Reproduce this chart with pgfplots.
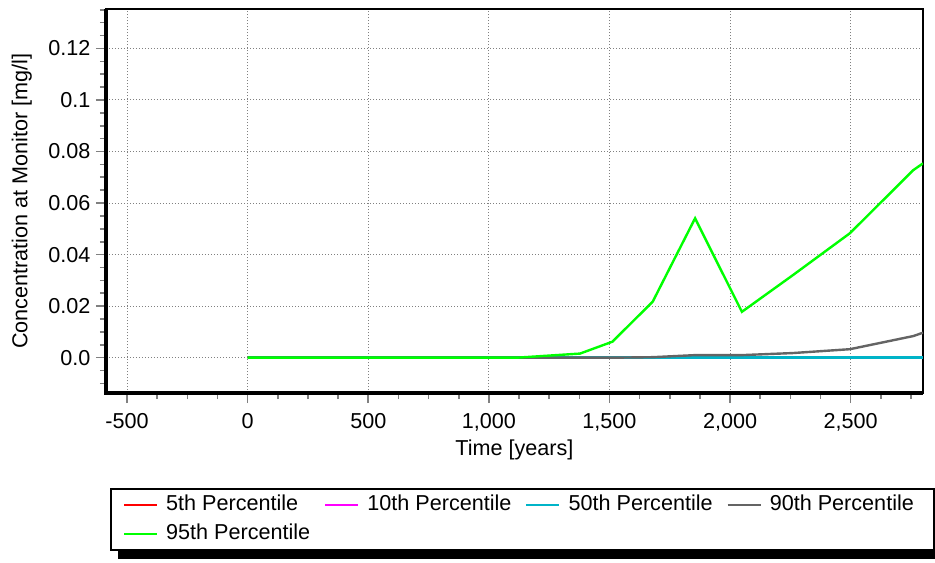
\documentclass[border=0pt]{standalone}
\usepackage{fontspec}
\setmainfont{Liberation Sans}
\usepackage{pgfplots}
\pgfplotsset{compat=1.18}
\usetikzlibrary{backgrounds}
\definecolor{c5}{RGB}{255,0,0}
\definecolor{c10}{RGB}{255,0,255}
\definecolor{c50}{RGB}{0,180,200}
\definecolor{c90}{RGB}{100,100,100}
\definecolor{c95}{RGB}{0,255,0}
\definecolor{tickgray}{RGB}{128,128,128}
\newcommand{\cf}{\fontsize{10.8}{13}\selectfont}
\begin{document}
\cf
\begin{tikzpicture}
\useasboundingbox (-53pt,-84.5pt) rectangle (414.5pt,196.5pt);
\begin{axis}[
  at={(0,0)}, anchor=south west,
  scale only axis, width=408.5pt, height=192pt,
  xmin=-587.5, xmax=2800, ymin=-0.0137, ymax=0.1353,
  xtick={-500,0,500,1000,1500,2000,2500},
  xticklabels={-500,0,500,{1,000},{1,500},{2,000},{2,500}},
  minor xtick={-375,-250,-125,125,250,375,625,750,875,1125,1250,1375,1625,1750,1875,2125,2250,2375,2625,2750},
  ytick={0,0.02,0.04,0.06,0.08,0.1,0.12},
  yticklabels={0.0,0.02,0.04,0.06,0.08,0.1,0.12},
  minor ytick={-0.01,-0.005,0.005,0.01,0.015,0.025,0.03,0.035,0.045,0.05,0.055,0.065,0.07,0.075,0.085,0.09,0.095,0.105,0.11,0.115,0.125,0.13,0.135},
  tick align=outside, xtick pos=bottom, ytick pos=left,
  major tick length=5pt, minor tick length=3pt,
  every tick/.style={tickgray, line width=0.8pt},
  xmajorgrids, ymajorgrids,
  major grid style={tickgray, line width=0.5pt, dash pattern=on 0.6pt off 0.9pt},
  axis line style={line width=1pt},
  xlabel={Time [years]}, ylabel={Concentration at Monitor [mg/l]},
  xlabel style={at={(axis description cs:0.5,-0.1484)}, anchor=center},
  ylabel style={at={(axis description cs:-0.1032,0.5)}, anchor=center},
  label style={font=\cf}, tick label style={font=\cf},
  xticklabel style={inner sep=0pt, yshift=-5pt},
  yticklabel style={inner sep=0pt, xshift=-2.6pt},
  legend columns=4, legend cell align=left,
  legend image code/.code={\draw[#1, line width=1pt] (0pt,0pt) -- (16.5pt,0pt); \path (20.5pt,0pt);},
  legend style={name=leg, at={(axis description cs:0.0049,-0.2474)}, anchor=north west,
    draw=black, line width=1pt, fill=white, inner xsep=6pt, inner ysep=3.2pt,
    /tikz/column sep=0pt, /tikz/row sep=4.55pt,
    nodes={inner sep=0pt, text height=7.6pt, text depth=2.2pt, font=\cf}},
  after end axis/.code={\draw[line width=1.6pt, black] (rel axis cs:0,1) -- (rel axis cs:0,0) -- (rel axis cs:1,0);},
]
\addplot[c5, line width=1.2pt] coordinates {(0,0) (2800,0)};
\addlegendentry{\makebox[79pt][l]{5th Percentile}}
\addplot[c10, line width=1.2pt] coordinates {(0,0) (2800,0)};
\addlegendentry{\makebox[79pt][l]{10th Percentile}}
\addplot[c50, line width=1.2pt] coordinates {(0,0) (2800,0)};
\addlegendentry{\makebox[79pt][l]{50th Percentile}}
\addplot[c90, line width=1.2pt] coordinates {
 (0,0) (1115,0) (1378,0) (1512,0) (1679,0.0002) (1855,0.001) (2049,0.001)
 (2260,0.0018) (2497,0.0033) (2760,0.0084) (2800,0.0097)};
\addlegendentry{\makebox[76pt][l]{90th Percentile}}
\addplot[c95, line width=1.2pt] coordinates {
 (0,0) (1115,0) (1378,0.0016) (1512,0.0062) (1679,0.0217) (1855,0.0541)
 (2049,0.0178) (2260,0.0320) (2497,0.0483) (2760,0.0728) (2800,0.0754)};
\addlegendentry{\makebox[79pt][l]{95th Percentile}}
\end{axis}
\begin{scope}[on background layer]
\fill[black] ([xshift=4pt,yshift=-4pt]leg.south west) rectangle ([xshift=4pt,yshift=-4pt]leg.north east);
\end{scope}
\end{tikzpicture}
\end{document}
